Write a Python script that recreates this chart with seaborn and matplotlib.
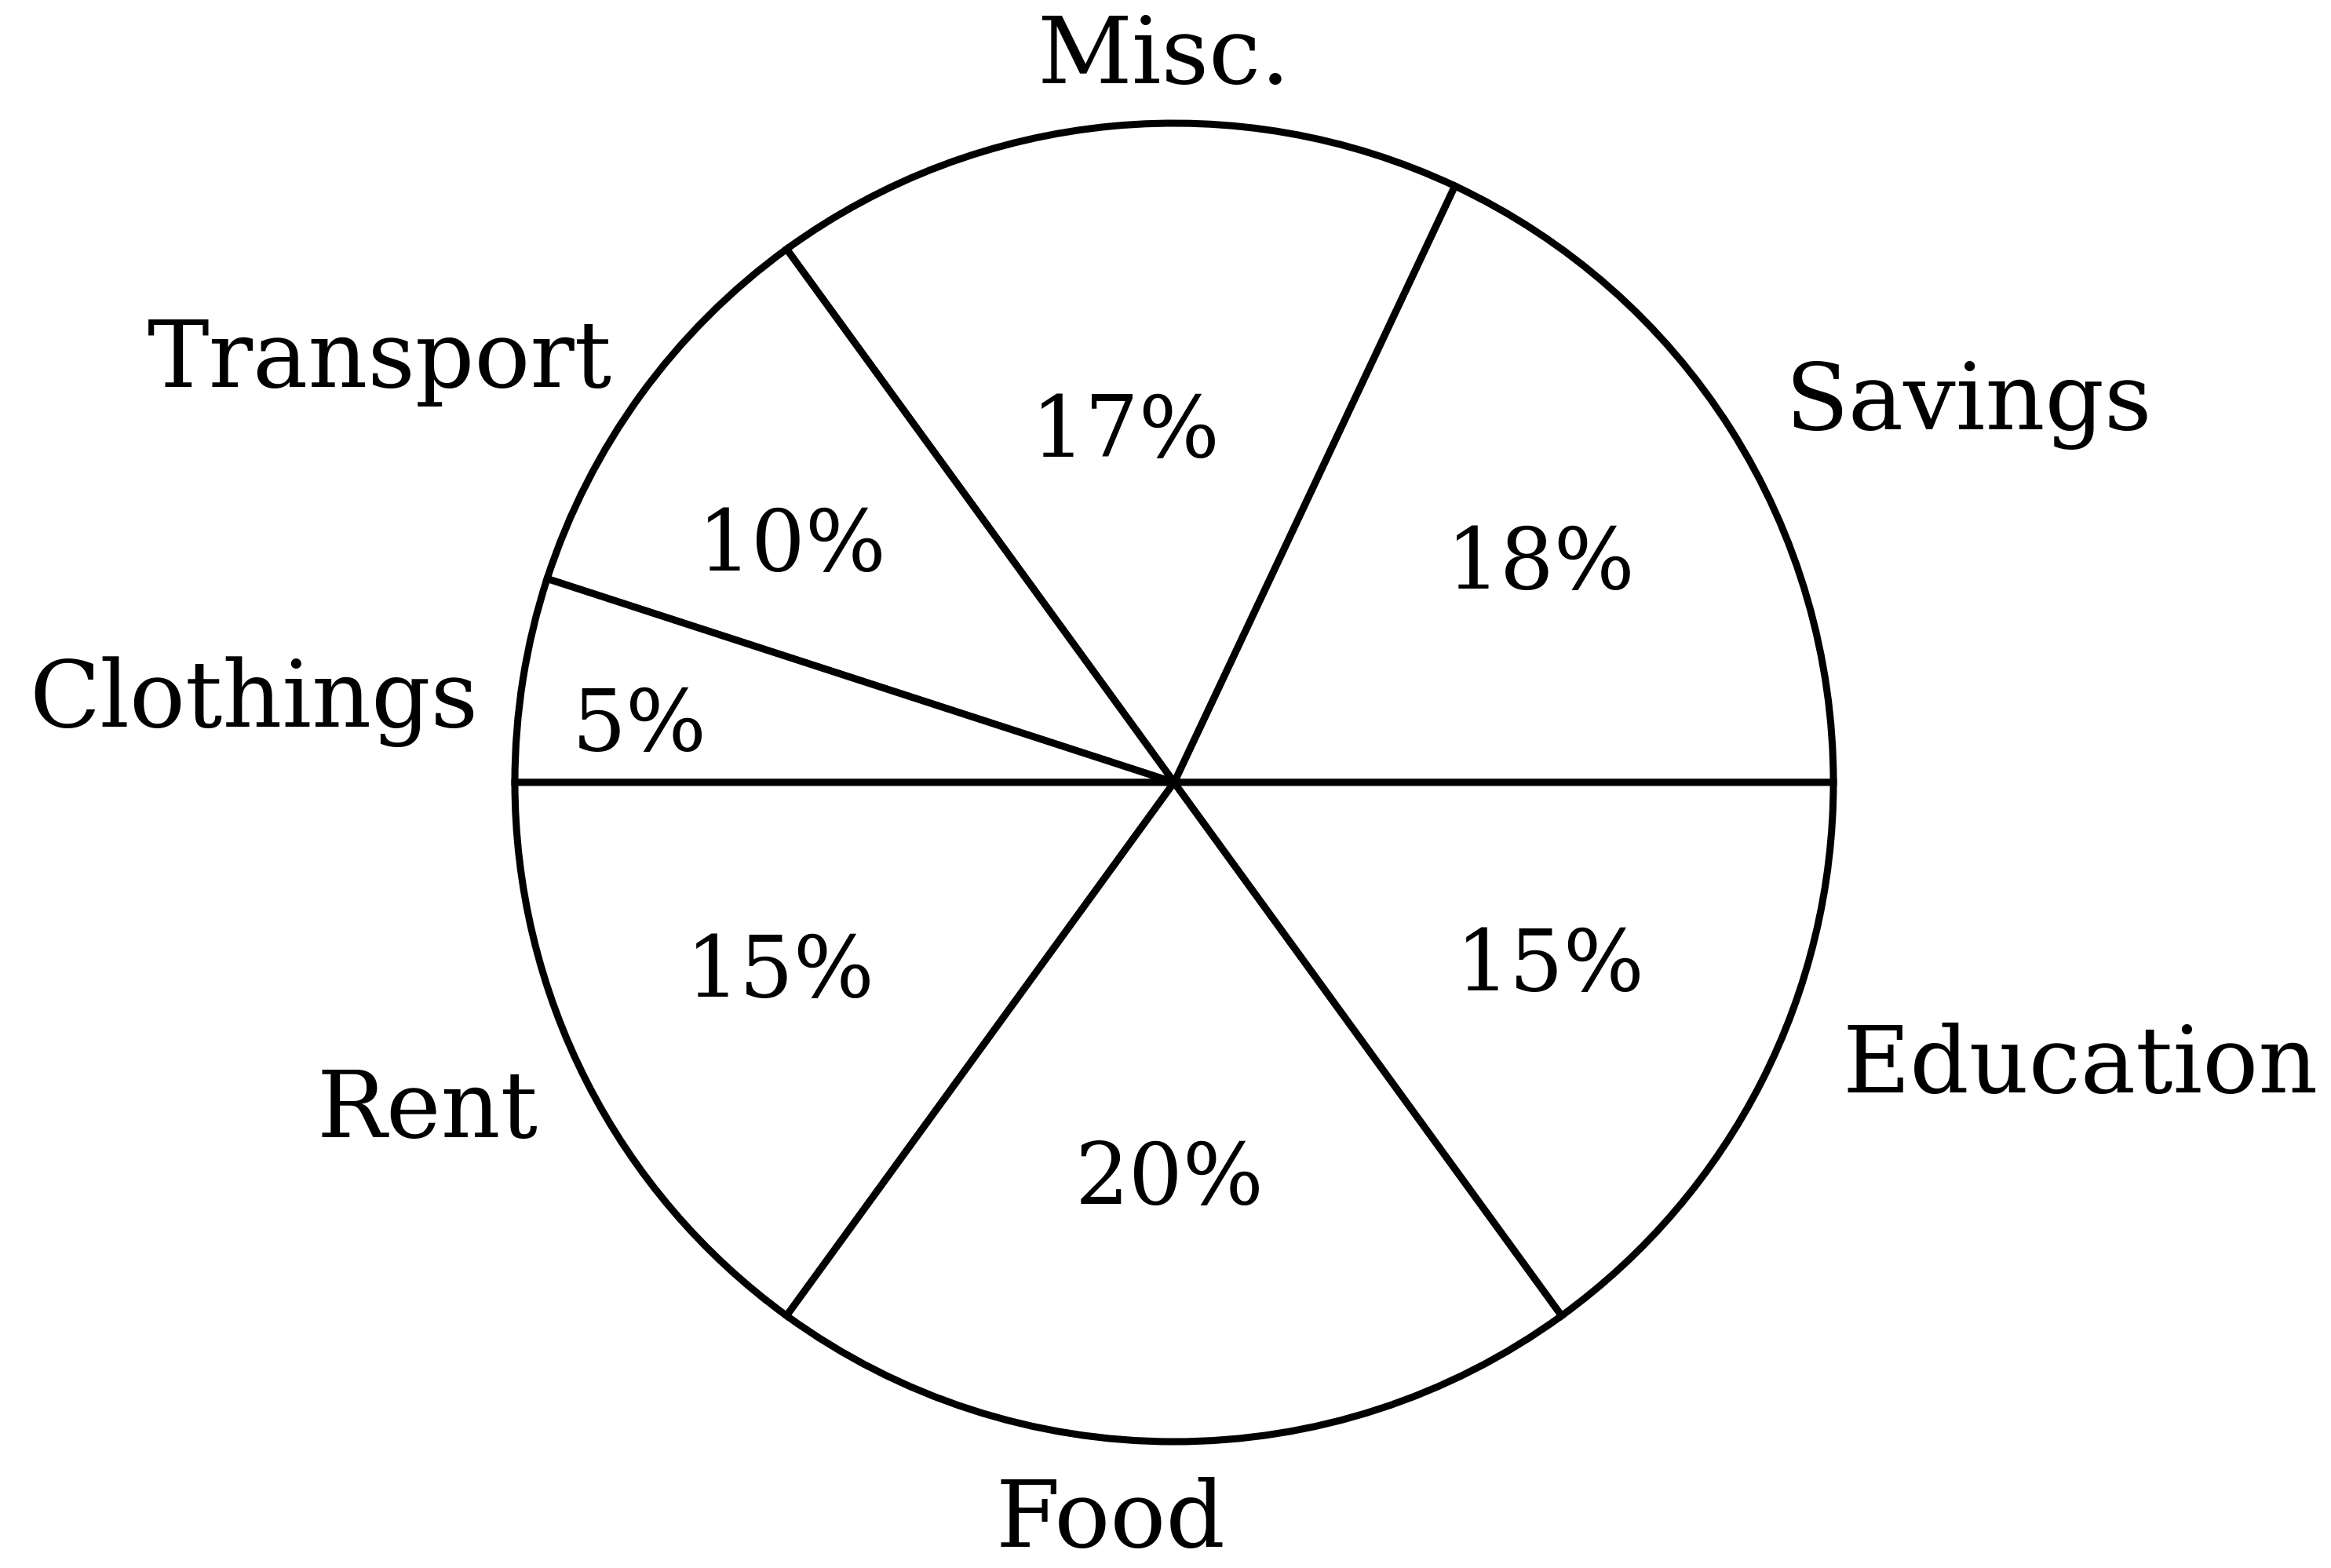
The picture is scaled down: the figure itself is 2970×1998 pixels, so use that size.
import matplotlib
matplotlib.use("Agg")
import matplotlib.pyplot as plt
import seaborn as sns

# ---- data ----
categories = ["Savings", "Misc.", "Transport", "Clothings", "Rent", "Food", "Education"]
shares = [18, 17, 10, 5, 15, 20, 15]
pct_labels = ["18%", "17%", "10%", "5%", "15%", "20%", "15%"]

sns.set_style("white")
plt.rcParams["font.family"] = ["DejaVu Serif", "DejaVu Sans"]

fig = plt.figure(figsize=(29.70, 19.99), dpi=100)
ax = fig.add_axes([0, 0, 1, 1])

colors = sns.color_palette(["#ffffff"] * len(categories))
wedges, texts, autotexts = ax.pie(
    shares, labels=categories, colors=colors, startangle=0, counterclock=True,
    autopct="%d%%", labeldistance=1.2, pctdistance=0.6,
    wedgeprops=dict(edgecolor="black", linewidth=6.5),
    textprops=dict(color="black"))

# placement of labels (data units, pie radius = 1)
label_pos = [(1.205, 0.574), (-0.016, 1.10), (-1.205, 0.64), (-1.396, 0.124),
             (-1.133, -0.498), (-0.097, -1.12), (1.374, -0.43)]
pct_pos = [(0.556, 0.33), (-0.074, 0.53), (-0.579, 0.358), (-0.811, 0.085),
           (-0.597, -0.288), (-0.007, -0.603), (0.57, -0.279)]

for t, p, s in zip(texts, label_pos, categories):
    t.set_position(p)
    t.set_text(s)
    t.set_ha("center")
    t.set_va("center")
    t.set_fontsize(85)
for t, p, s in zip(autotexts, pct_pos, pct_labels):
    t.set_position(p)
    t.set_text(s)
    t.set_ha("center")
    t.set_va("center")
    t.set_fontsize(78)

R = 840.0
cx, cy = 1496.0, 998.0
ax.set_xlim(-cx / R, (2970 - cx) / R)
ax.set_ylim(-(1999 - cy) / R, cy / R)
ax.set_aspect("auto")
ax.axis("off")

fig.savefig("out.png", dpi=100, facecolor="white")
